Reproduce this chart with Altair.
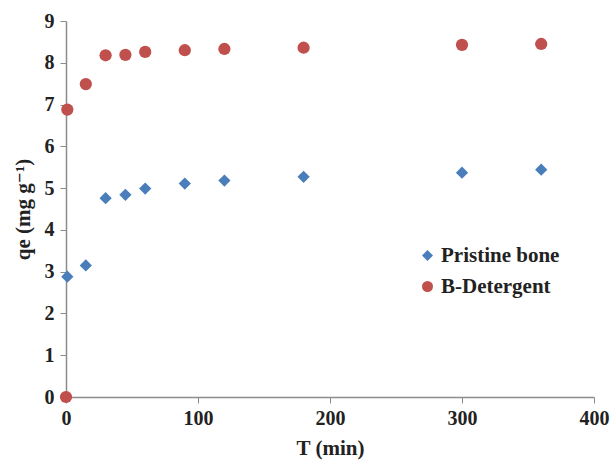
import altair as alt
import pandas as pd

time_min = [0, 1, 15, 30, 45, 60, 90, 120, 180, 300, 360]
pristine_bone = [0, 2.88, 3.15, 4.76, 4.84, 4.99, 5.11, 5.18, 5.27, 5.37, 5.44]
b_detergent = [0, 6.88, 7.49, 8.18, 8.19, 8.26, 8.30, 8.33, 8.36, 8.43, 8.45]
series_names = ["Pristine bone", "B-Detergent"]

rows = []
for t, v in zip(time_min, pristine_bone):
    rows.append({"T": t, "qe": v, "series": series_names[0]})
for t, v in zip(time_min, b_detergent):
    rows.append({"T": t, "qe": v, "series": series_names[1]})
df = pd.DataFrame(rows)

FONT = "Liberation Serif, Times New Roman, DejaVu Serif, serif"

chart = alt.Chart(df).mark_point(filled=True, opacity=1, size=150).encode(
    x=alt.X("T:Q", title="T (min)",
            scale=alt.Scale(domain=[0, 400], nice=False),
            axis=alt.Axis(values=[0, 100, 200, 300, 400], grid=False, labelFlush=False,
                          labelPadding=5, titlePadding=9)),
    y=alt.Y("qe:Q", title="qe (mg g⁻¹)",
            scale=alt.Scale(domain=[0, 9], nice=False),
            axis=alt.Axis(values=list(range(10)), grid=False, labelFlush=False,
                          labelPadding=6, titlePadding=11)),
    color=alt.Color("series:N",
                    scale=alt.Scale(domain=series_names, range=["#4A7EBB", "#C0504D"]),
                    legend=alt.Legend(title=None, orient="none", legendX=351, legendY=224,
                                      symbolSize=121, rowPadding=9, labelFontSize=21,
                                      labelFont=FONT, labelFontWeight="bold", labelColor="#222",
                                      symbolOffset=0, labelOffset=3)),
    shape=alt.Shape("series:N",
                    scale=alt.Scale(domain=series_names, range=["diamond", "circle"]),
                    legend=None),
    order=alt.Order("series:N", sort="descending"),
).properties(
    width=528, height=376,
    autosize=alt.AutoSizeParams(type="none"),
    padding={"left": 66, "top": 21, "right": 16, "bottom": 63},
).configure_view(stroke=None).configure_axis(
    domainColor="#8c8c8c", tickColor="#8c8c8c", domainWidth=1.5, tickWidth=1,
    tickSize=6, labelFont=FONT, labelFontWeight="bold", labelFontSize=20,
    labelColor="#222", titleFont=FONT, titleFontWeight="bold", titleFontSize=21,
    titleColor="#222",
)

chart.save("out.html", embed_options={"renderer": "svg", "actions": False})
